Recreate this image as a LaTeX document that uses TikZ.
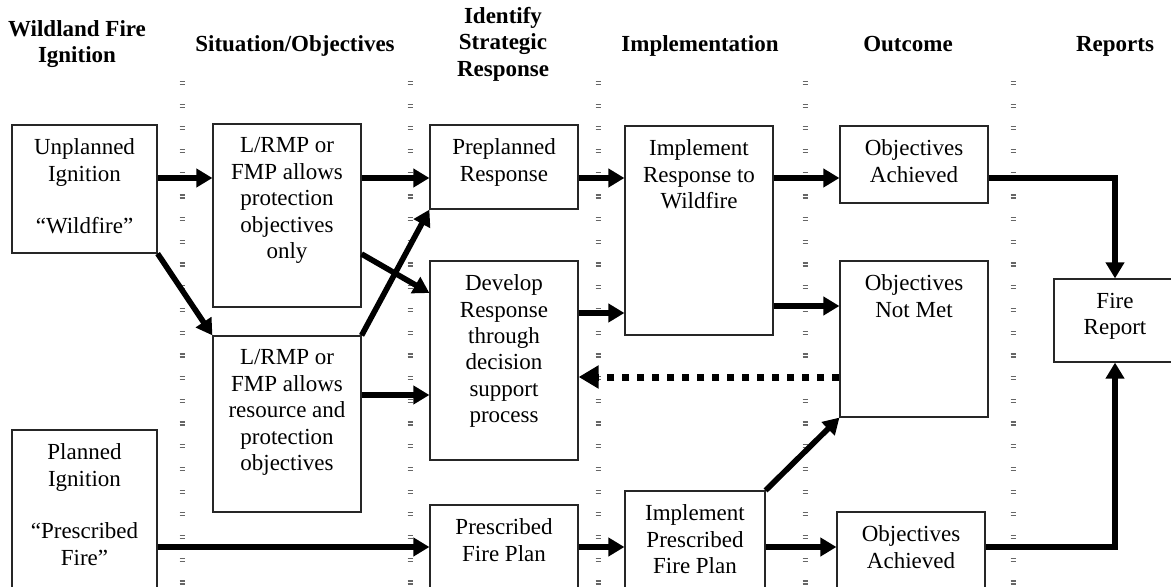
\documentclass[tikz,border=0pt]{standalone}
\usepackage{fontspec}
\setmainfont{Liberation Serif}
\usetikzlibrary{arrows.meta,positioning,fit}

\begin{document}
\begin{tikzpicture}[x=0.5pt,y=-0.5pt,>={Triangle[length=8pt,width=9pt]},
	flow/.style={->,line width=2.8pt},
	back/.style={-{Triangle[length=10pt,width=11pt]},line width=3.5pt,dash pattern=on 3.75pt off 3.75pt},
	stage/.style={draw=black!85,line width=0.6pt,inner sep=0pt},
	txt/.style={align=center,inner sep=0pt,font=\fontsize{11.5}{13.2}\selectfont},
	head/.style={align=center,inner sep=0pt,font=\fontsize{11.5}{13.2}\selectfont\bfseries},
	sep/.style={draw=black!60,line width=0.6pt}]
	\useasboundingbox (0,0) rectangle (1171,587);
	\clip (0,0) rectangle (1171,587);

	% column separators
	\foreach \sx in {182,410,598,805,1013}
		\foreach \sy in {83,105.7,...,583}
			\draw[sep] (\sx-2.5,\sy-1.5) -- ++(5,0) (\sx-2.5,\sy+1.5) -- ++(5,0);

	% headings
	\node[head] (hign) at (77,44) {Wildland Fire\\Ignition};
	\node[head,anchor=base] (hsit) at (295,51.5) {Situation/Objectives};
	\node[head] (hstr) at (503,44) {Identify\\Strategic\\Response};
	\node[head,anchor=base] (himp) at (700,51.5) {Implementation};
	\node[head,anchor=base] (hout) at (908,51.5) {Outcome};
	\node[head,anchor=base] (hrep) at (1115,51.5) {Reports};

	% boxes
	\node[stage,fit={(12,125) (157,253)}] (unpl) {};
	\node[stage,fit={(12,430) (157,595)}] (plan) {};
	\node[stage,fit={(213,124) (361,307)}] (sitp) {};
	\node[stage,fit={(213,336) (361,512)}] (sitr) {};
	\node[stage,fit={(430,125) (578,209)}] (prep) {};
	\node[stage,fit={(430,261) (578,460)}] (dev) {};
	\node[stage,fit={(430,505) (578,595)}] (rxp) {};
	\node[stage,fit={(625,126) (773,335)}] (impw) {};
	\node[stage,fit={(625,491) (765,595)}] (impp) {};
	\node[stage,fit={(840,126) (988,203)}] (achw) {};
	\node[stage,fit={(840,261) (988,417)}] (miss) {};
	\node[stage,fit={(837,512) (985,595)}] (achp) {};
	\node[stage,fit={(1054,279) (1176,362)}] (rep) {};

	\node[txt,below=7pt of unpl.north] (unpl-t) {Unplanned\\Ignition\\[13.2pt]“Wildfire”};
	\node[txt,below=7pt of plan.north] (plan-t) {Planned\\Ignition\\[13.2pt]“Prescribed\\Fire”};
	\node[txt,below=7pt of sitp.north] (sitp-t) {L/RMP or\\FMP allows\\protection\\objectives\\only};
	\node[txt,below=7pt of sitr.north] (sitr-t) {L/RMP or\\FMP allows\\resource and\\protection\\objectives};
	\node[txt,below=7pt of prep.north] (prep-t) {Preplanned\\Response};
	\node[txt,below=7pt of dev.north] (dev-t) {Develop\\Response\\through\\decision\\support\\process};
	\node[txt,below=7pt of rxp.north] (rxp-t) {Prescribed\\Fire Plan};
	\node[txt,below=7pt of impw.north] (impw-t) {Implement\\Response to\\Wildfire};
	\node[txt,below=7pt of impp.north] (impp-t) {Implement\\Prescribed\\Fire Plan};
	\node[txt,below=7pt of achw.north] (achw-t) {Objectives\\Achieved};
	\node[txt,below=7pt of miss.north] (miss-t) {Objectives\\Not Met};
	\node[txt,below=7pt of achp.north] (achp-t) {Objectives\\Achieved};
	\node[txt,below=7pt of rep.north] (rep-t) {Fire\\Report};

	% rows for the arrows
	\coordinate (ytop) at (0,178);
	\coordinate (ydev) at (0,313);
	\coordinate (ymiss) at (0,306);
	\coordinate (ysit) at (0,395);
	\coordinate (yback) at (0,377);
	\coordinate (ybot) at (0,547);

	\draw[flow] (unpl.east |- ytop) -- (sitp.west |- ytop);
	\draw[flow] (sitp.east |- ytop) -- (prep.west |- ytop);
	\draw[flow] (prep.east |- ytop) -- (impw.west |- ytop);
	\draw[flow] (impw.east |- ytop) -- (achw.west |- ytop);
	\draw[flow] (achw.east |- ytop) -| (rep.north);
	\draw[flow] (unpl.south east) -- (sitr.north west);
	\draw[flow] (sitr.north east) -- (prep.south west);
	\draw[flow] ([yshift=-19.25pt]sitp.east) -- ([yshift=33.75pt]dev.west);
	\draw[flow] (sitr.east |- ysit) -- (dev.west |- ysit);
	\draw[flow] (dev.east |- ydev) -- (impw.west |- ydev);
	\draw[flow] (impw.east |- ymiss) -- (miss.west |- ymiss);
	\draw[back] (miss.west |- yback) -- (dev.east |- yback);
	\draw[flow] (plan.east |- ybot) -- (rxp.west |- ybot);
	\draw[flow] (rxp.east |- ybot) -- (impp.west |- ybot);
	\draw[flow] (impp.east |- ybot) -- (achp.west |- ybot);
	\draw[flow] (achp.east |- ybot) -| (rep.south);
	\draw[flow] (impp.north east) -- (miss.south west);
\end{tikzpicture}
\end{document}
